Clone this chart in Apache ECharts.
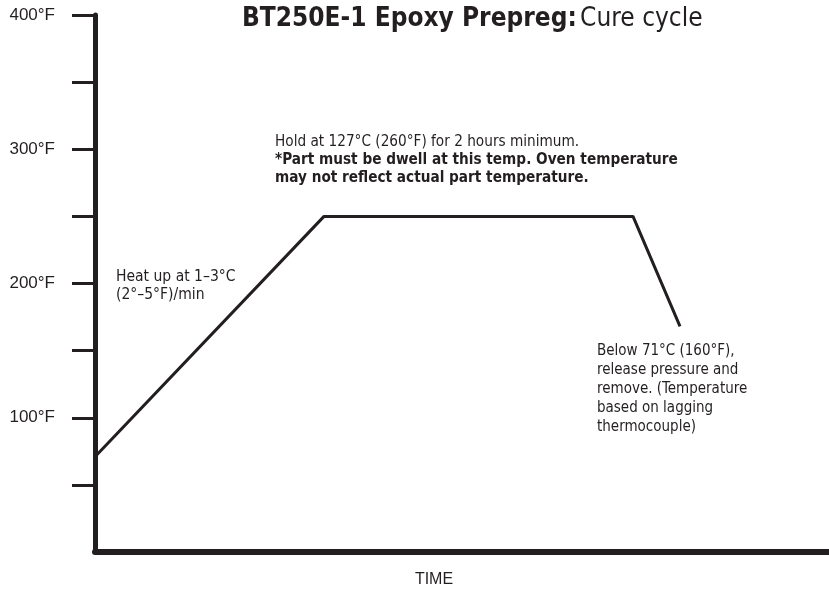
<!DOCTYPE html>
<html>
<head>
<meta charset="utf-8">
<script src="https://cdn.jsdelivr.net/npm/echarts@6/dist/echarts.min.js"></script>
<style>
  html, body { margin: 0; padding: 0; background: #fff; }
  #cure-chart { width: 829px; height: 593px; }
</style>
</head>
<body>
<div id="cure-chart"></div>
<script>
    "use strict";

    // 固化曲线数据 (时间为相对单位, 温度 °F)
    var timePoints = [0, 31.2, 73.3, 79.7];
    var tempPoints = [71, 250, 250, 168];
    var tempTicks = [100, 200, 300, 400];
    var minorTicks = [50, 100, 150, 200, 250, 300, 350, 400];

    var ink = '#231f20';
    var narrow = '"Liberation Sans Narrow", "DejaVu Sans Condensed", sans-serif';

    var $cureChart = echarts.init(document.getElementById('cure-chart'));

    var $cureOption = {
        animation: false,
        grid: { left: 95, right: 0, top: 15, bottom: 41 },
        xAxis: {
            type: 'value',
            min: 0,
            max: 100,
            axisLine: { show: true, lineStyle: { color: ink, width: 6 } },
            axisTick: { show: false },
            axisLabel: { show: false },
            splitLine: { show: false }
        },
        yAxis: {
            type: 'value',
            min: 0,
            max: 400,
            interval: 50,
            axisLine: { show: true, lineStyle: { color: ink, width: 5 } },
            axisTick: {
                show: true,
                length: 23,
                customValues: minorTicks,
                lineStyle: { color: ink, width: 3 }
            },
            axisLabel: {
                margin: 40,
                color: ink,
                fontFamily: '"Liberation Sans", Arial, sans-serif',
                fontSize: 17,
                customValues: tempTicks,
                formatter: function (v) { return v + '°F'; }
            },
            splitLine: { show: false }
        },
        series: [{
            type: 'line',
            showSymbol: false,
            lineStyle: { color: ink, width: 3 },
            data: timePoints.map(function (t, i) { return [t, tempPoints[i]]; })
        }],
        graphic: [
            {
                type: 'text',
                x: 242, y: 19,
                style: {
                    text: '{b|BT250E-1 Epoxy Prepreg:} {n|Cure cycle}',
                    verticalAlign: 'middle',
                    rich: {
                        b: { fontFamily: narrow, fontWeight: 'bold', fontSize: 26, fill: ink },
                        n: { fontFamily: narrow, fontSize: 26, fill: ink }
                    }
                }
            },
            {
                type: 'text',
                x: 275, y: 133,
                style: {
                    text: '{n|Hold at 127°C (260°F) for 2 hours minimum.}\n' +
                          '{b|*Part must be dwell at this temp. Oven temperature}\n' +
                          '{b|may not reflect actual part temperature.}',
                    verticalAlign: 'top',
                    rich: {
                        n: { fontFamily: narrow, fontSize: 15.2, lineHeight: 18, fill: ink },
                        b: { fontFamily: narrow, fontSize: 15.2, fontWeight: 'bold', lineHeight: 18, fill: ink }
                    }
                }
            },
            {
                type: 'text',
                x: 116, y: 268,
                style: {
                    text: 'Heat up at 1–3°C\n(2°–5°F)/min',
                    font: '15.5px ' + narrow,
                    lineHeight: 18,
                    verticalAlign: 'top',
                    fill: ink
                }
            },
            {
                type: 'text',
                x: 597, y: 342,
                style: {
                    text: 'Below 71°C (160°F),\nrelease pressure and\nremove. (Temperature\nbased on lagging\nthermocouple)',
                    font: '15px ' + narrow,
                    lineHeight: 19,
                    verticalAlign: 'top',
                    fill: ink
                }
            },
            {
                type: 'text',
                x: 434, y: 580,
                style: {
                    text: 'TIME',
                    font: '16px "Liberation Sans", Arial, sans-serif',
                    align: 'center',
                    verticalAlign: 'middle',
                    fill: ink
                }
            }
        ]
    };

    $cureChart.setOption($cureOption);
</script>
</body>
</html>
